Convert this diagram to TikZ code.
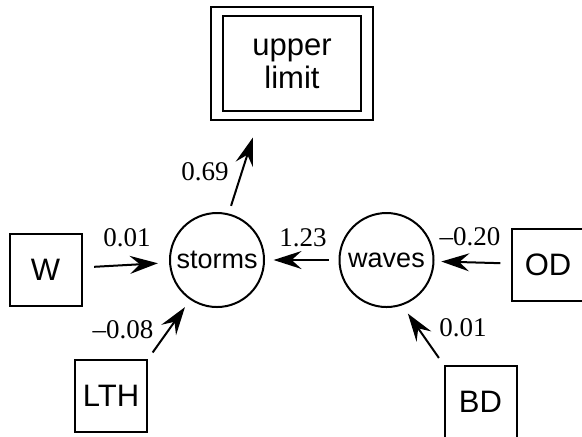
\documentclass[tikz,border=0pt]{standalone}
\usepackage{fontspec}
\setmainfont{Liberation Serif}
\setsansfont{Liberation Sans}
\usepackage{tikz}
\usetikzlibrary{arrows.meta, positioning, fit}

\tikzset{
  varbox/.style={draw, line width=1pt, minimum size=36pt, inner sep=0pt, font=\sffamily\fontsize{15.5}{18}\selectfont},
  latent/.style={draw, circle, line width=1pt, minimum size=47pt, inner sep=0pt, font=\sffamily\fontsize{13.5}{15}\selectfont},
  limitbox/.style={draw, line width=1.1pt, minimum width=69pt, minimum height=47.5pt, inner sep=0pt, align=center, font=\sffamily\fontsize{15.5}{16.5}\selectfont},
  coef/.style={-{Stealth[length=14pt, width=9pt, inset=5pt]}, line width=1pt},
  weight/.style={inner sep=0pt, font=\fontsize{13.5}{15}\selectfont}
}

\begin{document}
\begin{tikzpicture}[x=0.5pt, y=-0.5pt]
        \useasboundingbox (0,0) rectangle (582,436);

        % Upper limit
        \node[limitbox] (limit) at (292,63.5) {upper\\limit};
        \node[draw, line width=1.1pt, fit=(limit), inner xsep=5.5pt, inner ysep=4.1pt] (limitframe) {};

        % Latent variables
        \node[latent] (storms) at (217,260) {storms};
        \node[latent] (waves) at (386.5,260) {waves};

        % Observed variables
        \node[varbox] (W) at (45.5,269.5) {W};
        \node[varbox] (LTH) at (111,396) {LTH};
        \node[varbox] (OD) at (548,264.5) {OD};
        \node[varbox] (BD) at (480.5,401.5) {BD};

        % Paths
        \draw[coef, shorten <=4pt, shorten >=8.5pt] (storms.76) -- ([xshift=-17pt]limitframe.south);
        \draw[coef, shorten <=5.8pt, shorten >=5.6pt] (W) -- (storms);
        \draw[coef, shorten <=4pt, shorten >=4.5pt] (LTH.north east) -- (storms.-124);
        \draw[coef, shorten <=4.9pt, shorten >=4.3pt] (waves) -- (storms);
        \draw[coef, shorten <=5.3pt, shorten >=3.4pt] (OD) -- (waves);
        \draw[coef, shorten <=4pt, shorten >=5pt] (BD.north west) -- (waves.-71);

        % Path coefficients
        \node[weight] (w69) at (205,172) {0.69};
        \node[weight] (wW) at (127,238) {0.01};
        \node[weight] (wLTH) at (123,330) {--0.08};
        \node[weight] (wwaves) at (303,238) {1.23};
        \node[weight] (wOD) at (470,237) {--0.20};
        \node[weight] (wBD) at (463,328) {0.01};

\end{tikzpicture}
\end{document}
